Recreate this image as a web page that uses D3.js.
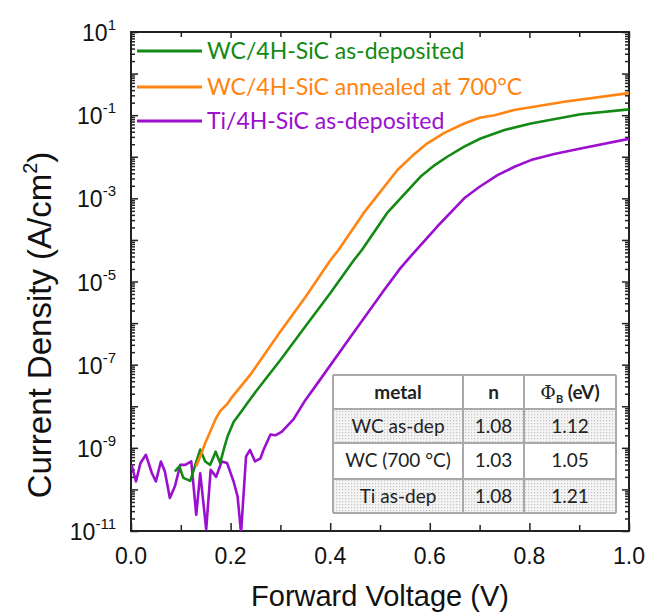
<!DOCTYPE html>
<html><head><meta charset="utf-8">
<script src="https://cdn.jsdelivr.net/npm/d3@7"></script>
<style>body{margin:0;background:#fff}svg{display:block}</style>
</head><body><svg id="c" width="649" height="614"></svg>
<script>
const seriesNames = ["WC/4H-SiC as-deposited","WC/4H-SiC annealed at 700°C","Ti/4H-SiC as-deposited"];
const seriesColors = ["#138a13","#ff8411","#9b0fcf"];

const vWC = [0.088,0.097,0.105,0.119,0.139,0.149,0.159,0.170,0.179,0.187,0.194,0.206,0.223,0.236,0.25,0.30,0.35,0.40,0.447,0.464,0.514,0.55,0.581,0.61,0.635,0.67,0.702,0.75,0.803,0.903,1.0];
const jWC = [2.7e-10,3.6e-10,1.9e-10,1.6e-10,9.1e-10,4.7e-10,3.9e-10,8.1e-10,4.3e-10,9.8e-10,1.9e-9,4.2e-9,7.9e-9,1.3e-8,2.2e-8,1.3e-7,8.3e-7,5.2e-6,3.2e-5,5.8e-5,4.4e-4,1.3e-3,3.3e-3,6.3e-3,1.0e-2,1.78e-2,2.75e-2,4.4e-2,6.3e-2,0.105,0.138];

const vWC700 = [0.131,0.139,0.149,0.159,0.169,0.179,0.193,0.20,0.239,0.30,0.35,0.40,0.417,0.467,0.535,0.565,0.595,0.63,0.669,0.70,0.73,0.769,0.870,1.0];
const jWC700 = [3.6e-10,6.2e-10,1.3e-9,2.45e-9,4.7e-9,7.6e-9,1.12e-8,1.5e-8,5.6e-8,6.3e-7,4.2e-6,3.2e-5,5.8e-5,4.4e-4,4.8e-3,1.05e-2,2.1e-2,3.8e-2,6.3e-2,8.7e-2,0.1,0.133,0.211,0.339];

const vTi = [0.001,0.010,0.019,0.030,0.042,0.050,0.060,0.068,0.078,0.088,0.099,0.109,0.121,0.131,0.139,0.151,0.160,0.171,0.182,0.193,0.206,0.214,0.221,0.231,0.239,0.249,0.260,0.266,0.280,0.290,0.303,0.327,0.350,0.374,0.441,0.508,0.541,0.565,0.615,0.669,0.70,0.736,0.77,0.803,0.85,0.903,1.0];
const jTi = [3.9e-10,1.55e-10,4.3e-10,6.8e-10,2.45e-10,1.55e-10,4.7e-10,2.7e-10,6.2e-11,1.17e-10,3.9e-10,3.9e-10,4.7e-10,2.45e-11,2.45e-10,1.1e-11,2.95e-10,2.0e-10,4.7e-10,4.3e-10,1.55e-10,6.8e-11,9e-12,6.2e-10,8.9e-10,4.7e-10,5.6e-10,8.9e-10,2.1e-9,2.0e-9,2.45e-9,5.0e-9,1.4e-8,3.5e-8,4.7e-7,6.2e-6,2.1e-5,4.5e-5,2.1e-4,1.0e-3,1.9e-3,3.6e-3,5.75e-3,8.3e-3,1.17e-2,1.58e-2,2.7e-2];

const xTickLabels = ["0.0","0.2","0.4","0.6","0.8","1.0"];
const yLabelExponents = [1,-1,-3,-5,-7,-9,-11];

const tableHeader = ["metal","n","ΦB (eV)"];
const tableMetal = ["WC as-dep","WC (700 °C)","Ti as-dep"];
const tableN = ["1.08","1.03","1.08"];
const tablePhi = ["1.12","1.05","1.21"];

const svg = d3.select("#c");
const m = {l:131, t:32, r:20, b:83};
const W = 649, H = 614;
const x = d3.scaleLinear().domain([0,1]).range([m.l, W-m.r]);
const y = d3.scaleLog().domain([1e-11,10]).range([H-m.b, m.t]);

const defs = svg.append("defs");
defs.append("clipPath").attr("id","clip").append("rect")
  .attr("x",m.l).attr("y",m.t).attr("width",W-m.r-m.l).attr("height",H-m.b-m.t);
const pat = defs.append("pattern").attr("id","dots").attr("width",3).attr("height",3).attr("patternUnits","userSpaceOnUse");
pat.append("rect").attr("width",3).attr("height",3).attr("fill","#f4f4f4");
pat.append("rect").attr("width",1.2).attr("height",1.2).attr("fill","#c4c4c4");

const axisColor = "#222";
const majors = d3.range(-11,2).map(e=>Math.pow(10,e));
const minors = [];
d3.range(-11,1).forEach(e=>{for(let k=2;k<=9;k++) minors.push(k*Math.pow(10,e));});
const yAxisL = d3.axisRight(y).tickValues(majors).tickSize(7).tickFormat("");
const yAxisLm = d3.axisRight(y).tickValues(minors).tickSize(4).tickFormat("");
const yAxisR = d3.axisLeft(y).tickValues(majors).tickSize(7).tickFormat("");
const yAxisRm = d3.axisLeft(y).tickValues(minors).tickSize(4).tickFormat("");
const xMaj = [0,0.2,0.4,0.6,0.8,1.0], xMin=[0.1,0.3,0.5,0.7,0.9];
const xAxisB = d3.axisTop(x).tickValues(xMaj).tickSize(8).tickFormat("");
const xAxisBm = d3.axisTop(x).tickValues(xMin).tickSize(6).tickFormat("");
const xAxisT = d3.axisBottom(x).tickValues(xMaj).tickSize(6).tickFormat("");
const xAxisTm = d3.axisBottom(x).tickValues(xMin).tickSize(5).tickFormat("");

function styleAx(g){g.select(".domain").remove();g.selectAll("line").attr("stroke",axisColor).attr("stroke-width",1.5);}
svg.append("g").attr("transform",`translate(${m.l},0)`).call(yAxisL).call(styleAx);
svg.append("g").attr("transform",`translate(${m.l},0)`).call(yAxisLm).call(styleAx);
svg.append("g").attr("transform",`translate(${W-m.r},0)`).call(yAxisR).call(styleAx);
svg.append("g").attr("transform",`translate(${W-m.r},0)`).call(yAxisRm).call(styleAx);
svg.append("g").attr("transform",`translate(0,${H-m.b})`).call(xAxisB).call(styleAx);
svg.append("g").attr("transform",`translate(0,${H-m.b})`).call(xAxisBm).call(styleAx);
svg.append("g").attr("transform",`translate(0,${m.t})`).call(xAxisT).call(styleAx);
svg.append("g").attr("transform",`translate(0,${m.t})`).call(xAxisTm).call(styleAx);

svg.append("rect").attr("x",m.l).attr("y",m.t).attr("width",W-m.r-m.l).attr("height",H-m.b-m.t)
  .attr("fill","none").attr("stroke",axisColor).attr("stroke-width",2);

const font = "'Liberation Sans', Arial, sans-serif";
svg.append("g").selectAll("text").data(xTickLabels).join("text")
  .attr("x",d=>x(+d)).attr("y",564).attr("text-anchor","middle")
  .attr("font-family",font).attr("font-size",23).attr("fill","#111").text(d=>d);
const yl = svg.append("g").selectAll("text").data(yLabelExponents).join("text")
  .attr("x",116).attr("y",d=>y(Math.pow(10,d))+9).attr("text-anchor","end")
  .attr("font-family",font).attr("font-size",23).attr("fill","#111");
yl.append("tspan").text("10");
yl.append("tspan").attr("font-size",15).attr("dy",-11).text(d=>String(d));

svg.append("text").attr("x",(m.l+W-m.r)/2).attr("y",606).attr("text-anchor","middle")
  .attr("font-family",font).attr("font-size",29).attr("fill","#111").text("Forward Voltage (V)");
const yt = svg.append("text").attr("transform","translate(51,325) rotate(-90)").attr("text-anchor","middle")
  .attr("font-family",font).attr("font-size",33).attr("fill","#111");
yt.append("tspan").text("Current Density (A/cm");
yt.append("tspan").attr("font-size",20).attr("dy",-14).text("2");
yt.append("tspan").attr("dy",14).text(")");

const line = d3.line().x(d=>x(d[0])).y(d=>y(d[1]));
const series = [d3.zip(vWC,jWC), d3.zip(vWC700,jWC700), d3.zip(vTi,jTi)];
const gl = svg.append("g").attr("clip-path","url(#clip)");
[2,0,1].forEach(i=>{
  gl.append("path").datum(series[i]).attr("d",line).attr("fill","none")
    .attr("stroke",seriesColors[i]).attr("stroke-width",2.6).attr("stroke-linejoin","round");
});

const legY = [51,87,121];
const lg = svg.append("g");
seriesNames.forEach((n,i)=>{
  lg.append("line").attr("x1",137).attr("x2",202).attr("y1",legY[i]).attr("y2",legY[i])
    .attr("stroke",seriesColors[i]).attr("stroke-width",3);
  lg.append("text").attr("x",207).attr("y",legY[i]+8).attr("font-family","Lato, 'Open Sans', sans-serif")
    .attr("font-size",23).attr("fill",seriesColors[i]).text(n);
});

const colX = [333,463,524,616];
const rowY = [375,409,443,479,513];
const tg = svg.append("g");
[1,3].forEach(r=>{
  tg.append("rect").attr("x",colX[0]).attr("y",rowY[r]).attr("width",colX[3]-colX[0]).attr("height",rowY[r+1]-rowY[r]).attr("fill","url(#dots)");
});
tg.append("rect").attr("x",colX[0]).attr("y",rowY[0]).attr("width",colX[3]-colX[0]).attr("height",rowY[1]-rowY[0]).attr("fill","#fff");
tg.append("rect").attr("x",colX[0]).attr("y",rowY[2]).attr("width",colX[3]-colX[0]).attr("height",rowY[3]-rowY[2]).attr("fill","#fff");
rowY.forEach(yy=>tg.append("line").attr("x1",colX[0]).attr("x2",colX[3]).attr("y1",yy).attr("y2",yy).attr("stroke","#a9a9a9").attr("stroke-width",2));
colX.forEach(xx=>tg.append("line").attr("x1",xx).attr("x2",xx).attr("y1",rowY[0]).attr("y2",rowY[4]).attr("stroke","#a9a9a9").attr("stroke-width",2));
const tf = "Lato, 'Open Sans', sans-serif";
const cx = [ (colX[0]+colX[1])/2, (colX[1]+colX[2])/2, (colX[2]+colX[3])/2 ];
tg.append("text").attr("x",cx[0]).attr("y",rowY[0]+24).attr("text-anchor","middle").attr("font-family",tf).attr("font-weight","bold").attr("font-size",19).attr("fill","#222").text(tableHeader[0]);
tg.append("text").attr("x",cx[1]).attr("y",rowY[0]+24).attr("text-anchor","middle").attr("font-family",tf).attr("font-weight","bold").attr("font-size",19).attr("fill","#222").text(tableHeader[1]);
const ph = tg.append("text").attr("x",cx[2]).attr("y",rowY[0]+24).attr("text-anchor","middle").attr("font-family",tf).attr("font-weight","bold").attr("font-size",19).attr("fill","#222");
ph.append("tspan").attr("font-family","'DejaVu Serif', serif").attr("font-weight","normal").text(tableHeader[2].charAt(0));
ph.append("tspan").attr("font-size",11).attr("dy",4).text(tableHeader[2].charAt(1));
ph.append("tspan").attr("dy",-4).text(tableHeader[2].slice(2));
[tableMetal,tableN,tablePhi].forEach((col,ci)=>{
  col.forEach((t,ri)=>{
    tg.append("text").attr("x",cx[ci]).attr("y",rowY[ri+1]+24).attr("text-anchor","middle")
      .attr("font-family",tf).attr("font-size",19).attr("fill","#222").text(t);
  });
});
</script></body></html>
